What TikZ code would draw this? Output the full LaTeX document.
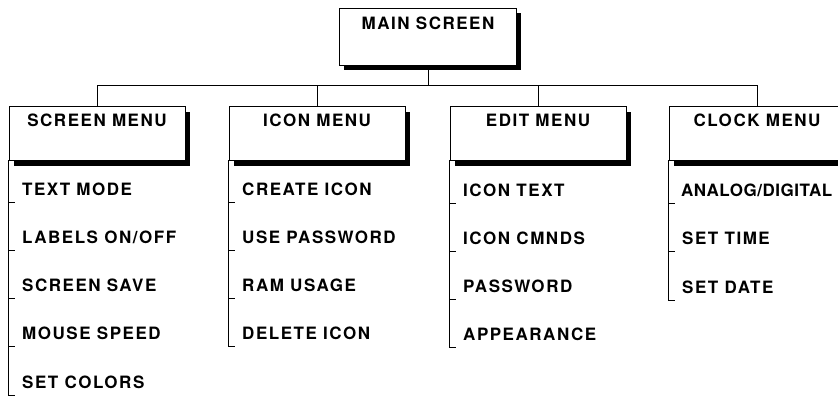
\documentclass[tikz,border=0pt]{standalone}
\usepackage{fontspec}
\newfontfamily\hfont[LetterSpace=9]{TeX Gyre Heros}
\usetikzlibrary{shadows}
\begin{document}
\begin{tikzpicture}[x=1pt,y=-1pt,
  lbl/.style={font=\hfont\bfseries\fontsize{17}{19}\selectfont},
  boxshadow/.style={drop shadow={shadow xshift=4.5pt,shadow yshift=-5.5pt,fill=black,opacity=1}},
  mainbox/.style={lbl,draw,line width=0.9pt,fill=white,boxshadow,minimum width=177pt,
    inner xsep=0pt,inner ysep=0pt,text height=21.5pt,text depth=35.5pt},
  menubox/.style={lbl,draw,line width=0.9pt,fill=white,boxshadow,minimum width=176pt,
    inner xsep=0pt,inner ysep=0pt,text height=20.5pt,text depth=33.5pt},
  item/.style={lbl,anchor=base west,inner sep=0pt},
  wire/.style={line width=0.8pt}
]
\useasboundingbox (0,0) rectangle (838,396);
\coordinate (bus) at (0,85);
% boxes
\node[mainbox] (main) at (428,36.5) {MAIN SCREEN};
\node[menubox] (scr) at (97,133) {SCREEN MENU};
\node[menubox] (icn) at (317,133) {ICON MENU};
\node[menubox] (edt) at (538,133) {EDIT MENU};
\node[menubox] (clk) at (757,133) {CLOCK MENU};
% connectors from main to menus
\draw[wire] (main.south) -- (main.south |- bus);
\draw[wire] (scr.north) -- (scr.north |- bus) -- (clk.north |- bus) -- (clk.north);
\draw[wire] (icn.north) -- (icn.north |- bus);
\draw[wire] (edt.north) -- (edt.north |- bus);
% screen menu items
\node[item] (s1) at (22,195) {TEXT MODE};
\node[item] (s2) at (22,243.2) {LABELS ON/OFF};
\node[item] (s3) at (22,291.5) {SCREEN SAVE};
\node[item] (s4) at (22,339.8) {MOUSE SPEED};
\node[item] (s5) at (22,388) {SET COLORS};
\draw[wire] (scr.south west) -- (scr.south west |- 0,395) -- ++(6,0);
\foreach \y in {202,250.2,298.5,346.8} \draw[wire] (scr.south west |- 0,\y) -- ++(6,0);
% icon menu items
\node[item] (i1) at (242,195) {CREATE ICON};
\node[item] (i2) at (242,243.2) {USE PASSWORD};
\node[item] (i3) at (242,291.5) {RAM USAGE};
\node[item] (i4) at (242,339.8) {DELETE ICON};
\draw[wire] (icn.south west) -- (icn.south west |- 0,346.8) -- ++(6,0);
\foreach \y in {202,250.2,298.5} \draw[wire] (icn.south west |- 0,\y) -- ++(6,0);
% edit menu items
\node[item] (e1) at (463,196) {ICON TEXT};
\node[item] (e2) at (463,244.2) {ICON CMNDS};
\node[item] (e3) at (463,292.5) {PASSWORD};
\node[item] (e4) at (463,340.8) {APPEARANCE};
\draw[wire] (edt.south west) -- (edt.south west |- 0,347.8) -- ++(6,0);
\foreach \y in {203,251.2,299.5} \draw[wire] (edt.south west |- 0,\y) -- ++(6,0);
% clock menu items
\node[item] (c1) at (681,196) {\addfontfeature{LetterSpace=3}ANALOG/DIGITAL};
\node[item] (c2) at (682,244.5) {SET TIME};
\node[item] (c3) at (682,293) {SET DATE};
\draw[wire] (clk.south west) -- (clk.south west |- 0,300) -- ++(6,0);
\foreach \y in {203,251.5} \draw[wire] (clk.south west |- 0,\y) -- ++(6,0);
\end{tikzpicture}
\end{document}
